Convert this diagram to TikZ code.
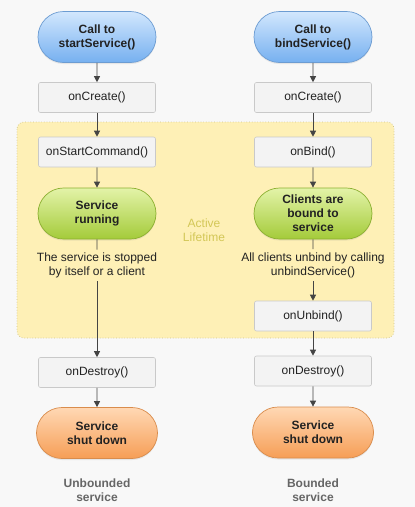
\documentclass[tikz,border=0pt]{standalone}
\usepackage{fontspec}
\setmainfont{Liberation Sans}
\usetikzlibrary{shapes.misc}
\usetikzlibrary{arrows.meta}
\usetikzlibrary{shadows}
\usetikzlibrary{positioning}

\definecolor{pagebg}{HTML}{F8F8F8}
\definecolor{lifefill}{HTML}{FEF0B6}
\definecolor{lifeline}{HTML}{CFC48C}
\definecolor{lifetext}{HTML}{D3C757}
\definecolor{boxfill}{HTML}{F3F3F3}
\definecolor{boxline}{HTML}{C9C9C9}
\definecolor{bluetop}{HTML}{D2E7FD}
\definecolor{bluebot}{HTML}{76B0F0}
\definecolor{blueline}{HTML}{6C9CD2}
\definecolor{greentop}{HTML}{E3F3A8}
\definecolor{greenbot}{HTML}{A4CB3A}
\definecolor{greenline}{HTML}{8BAF30}
\definecolor{orangetop}{HTML}{FFD8B4}
\definecolor{orangebot}{HTML}{F69E56}
\definecolor{orangeline}{HTML}{D98C4C}
\definecolor{arrowgray}{HTML}{444444}
\definecolor{textdark}{HTML}{222222}
\definecolor{labelgray}{HTML}{666666}

\begin{document}
\begin{tikzpicture}[x=1pt,y=-1pt,
    every node/.style={font=\fontsize{12}{14}\selectfont,text=textdark},
    pill/.style={rounded rectangle,draw,line width=0.7pt,minimum width=118pt,minimum height=51pt,
      inner sep=0pt,align=center,font=\fontsize{12}{14}\selectfont\bfseries,
      drop shadow={opacity=0.15,shadow xshift=0pt,shadow yshift=-1.5pt}},
    callpill/.style={pill,draw=blueline,top color=bluetop,bottom color=bluebot},
    runpill/.style={pill,draw=greenline,top color=greentop,bottom color=greenbot},
    endpill/.style={pill,draw=orangeline,top color=orangetop,bottom color=orangebot,minimum width=121pt},
    box/.style={rectangle,rounded corners=2pt,draw=boxline,fill=boxfill,line width=0.6pt,
      minimum width=117pt,minimum height=30pt,inner sep=0pt},
    note/.style={align=center,inner sep=3pt},
    kind/.style={align=center,font=\fontsize{12}{14}\selectfont\bfseries,text=labelgray},
    flow/.style={draw=arrowgray,line width=0.8pt,-{Triangle[length=6pt,width=6pt]}},
    stub/.style={draw=arrowgray,line width=0.8pt}]
    \fill[pagebg] (0,0) rectangle (415,507);
    \useasboundingbox (0,0) rectangle (415,507);

    % active lifetime area
    \draw[lifeline,fill=lifefill,dotted,line width=0.7pt,rounded corners=7pt] (17,122) rectangle (394,338);
    \node[align=center,text=lifetext] (life) at (204,230) {Active\\Lifetime};

    % unbounded service
    \node[callpill] (callA) at (97,37) {Call to\\startService()};
    \node[box] (createA) at (97,97.5) {onCreate()};
    \node[box] (cmdA) at (97,152) {onStartCommand()};
    \node[runpill] (runA) at (97,213.5) {Service\\running};
    \node[note] (stopA) at (97,265.5) {The service is stopped\\by itself or a client};
    \node[box] (destroyA) at (97,372.5) {onDestroy()};
    \node[endpill] (downA) at (97,433) {Service\\shut down};
    \node[kind] (labelA) at (97,490) {Unbounded\\service};

    % bounded service
    \node[callpill] (callB) at (313,37) {Call to\\bindService()};
    \node[box] (createB) at (313,97.5) {onCreate()};
    \node[box] (bindB) at (313,152) {onBind()};
    \node[runpill] (boundB) at (313,213.5) {Clients are\\bound to\\service};
    \node[note] (unbindB) at (313,265) {All clients unbind by calling\\unbindService()};
    \node[box] (unbindcallB) at (313,316) {onUnbind()};
    \node[box] (destroyB) at (313,371) {onDestroy()};
    \node[endpill] (downB) at (313,432.5) {Service\\shut down};
    \node[kind] (labelB) at (313,490) {Bounded\\service};

    \foreach \a/\b in {callA/createA,createA/cmdA,cmdA/runA,stopA/destroyA,destroyA/downA,
        callB/createB,createB/bindB,bindB/boundB,unbindB/unbindcallB,unbindcallB/destroyB,destroyB/downB}{
      \draw[flow] (\a) -- (\b);
    }
    \draw[stub] (runA) -- (stopA);
    \draw[stub] (boundB) -- (unbindB);
\end{tikzpicture}
\end{document}
